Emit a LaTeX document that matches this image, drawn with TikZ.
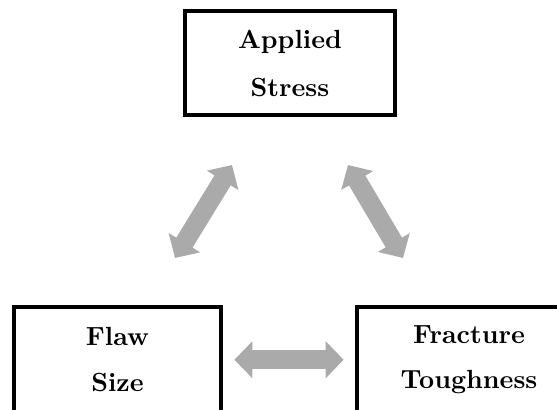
\documentclass[tikz,border=0pt]{standalone}
\usetikzlibrary{arrows.meta}
\definecolor{arrowgray}{RGB}{170,170,170}
\begin{document}
\begin{tikzpicture}[x=0.4pt,y=-0.4pt,
  box/.style={draw=black,line width=1.9pt,rectangle,align=center,font=\fontsize{10.5}{12.6}\selectfont\bfseries,inner sep=0pt},
  dbl/.style={draw=arrowgray,line width=7.6pt,{Triangle[length=7.2pt,width=14.4pt]}-{Triangle[length=7.2pt,width=14.4pt]}}]
\clip (0,0) rectangle (557,410);
\useasboundingbox (0,0) rectangle (557,410);
\node[box,minimum width=84pt,minimum height=41.6pt] (stress) at (290,63) {Applied\\[6.6pt]Stress};
\node[box,minimum width=82.8pt,minimum height=42.2pt] (flaw) at (117.5,359.75) {Flaw\\[5.8pt]Size};
\node[box,minimum width=89.6pt,minimum height=42.2pt] (tough) at (469,359.75) {Fracture\\[5.2pt]Toughness};
\coordinate (l1) at (175,258);
\coordinate (l2) at (232,165);
\coordinate (r1) at (348,165);
\coordinate (r2) at (403,258);
\draw[dbl] (l1) -- (l2);
\draw[dbl] (r1) -- (r2);
\draw[dbl,shorten <=4.4pt,shorten >=4.4pt] (flaw.east) -- (tough.west);
\end{tikzpicture}
\end{document}
